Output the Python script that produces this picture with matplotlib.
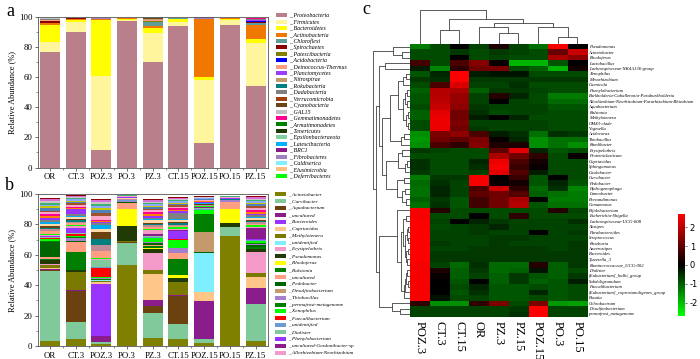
import numpy as np
import matplotlib
matplotlib.use("Agg")
import matplotlib.pyplot as plt
from matplotlib.colors import LinearSegmentedColormap
from matplotlib.patches import Rectangle

plt.rcParams['font.family'] = ['Liberation Serif', 'DejaVu Serif']
plt.rcParams['axes.unicode_minus'] = False

W, H = 700, 359

## ---------------- data: panel a (phyla) ----------------
samples = ["OR", "CT.3", "POZ.3", "PO.3", "PZ.3", "CT.15", "POZ.15", "PO.15", "PZ.15"]

phyla = ["Proteobacteria", "Firmicutes", "Bacteroidetes", "Actinobacteria", "Chloroflexi",
         "Spirochaetes", "Patescibacteria", "Acidobacteria", "Deinococcus-Thermus",
         "Planctomycetes", "Nitrospirae", "Rokubacteria", "Dadabacteria", "Verrucomicrobia",
         "Cyanobacteria", "GAL15", "Gemmatimonadetes", "Armatimonadetes", "Tenericutes",
         "Epsilonbacteraeota", "Latescibacteria", "BRC1", "Fibrobacteres", "Caldiserica",
         "Elusimicrobia", "Deferribacteres"]
phyla_colors = ["#B97F8A", "#FFF59D", "#FFFF00", "#F07800", "#5F9E96", "#8B0000", "#808000",
                "#0000FF", "#FF9E80", "#9B3CFF", "#C49A6C", "#008080", "#808080", "#A0410D",
                "#6B4513", "#C0C0C0", "#FF0090", "#008000", "#1E3A05", "#80D0A0", "#00B0FF",
                "#8B1A89", "#A080C0", "#80F0FF", "#FFC080", "#00FF00"]
phyla_vals = [
    [77.0, 89.8, 11.6, 97.3, 70.3, 94.2, 16.0, 94.7, 54.0],
    [6.6, 6.7, 49.2, 1.0, 18.9, 2.3, 42.0, 3.3, 28.5],
    [11.4, 1.5, 37.2, 0.3, 3.5, 2.0, 2.0, 1.0, 3.0],
    [0.7, 0.7, 0.5, 0.8, 1.5, 0.5, 38.5, 0.5, 9.2],
    [0.5, 0.1, 0.1, 0.1, 2.3, 0.1, 0.1, 0.0, 1.5],
    [1.0, 0.4, 0.1, 0.1, 0.4, 0.1, 0.0, 0.0, 0.5],
    [0.3, 0.1, 0.0, 0.0, 0.2, 0.0, 0.0, 0.0, 0.3],
    [0.1, 0.0, 0.0, 0.0, 0.3, 0.0, 0.0, 0.0, 0.2],
    [0.2, 0.1, 0.0, 0.0, 0.3, 0.0, 0.0, 0.0, 0.3],
    [0.1, 0.0, 0.0, 0.0, 0.6, 0.0, 0.0, 0.0, 0.2],
    [0.3, 0.0, 0.0, 0.0, 0.2, 0.0, 0.0, 0.0, 0.2],
    [0.1, 0.0, 0.0, 0.0, 0.2, 0.0, 0.0, 0.0, 0.2],
    [0.2, 0.0, 0.0, 0.0, 0.1, 0.0, 0.0, 0.0, 0.4],
    [0.2, 0.1, 0.0, 0.0, 0.2, 0.0, 0.0, 0.0, 0.2],
    [0.3, 0.0, 0.0, 0.0, 0.2, 0.0, 0.0, 0.0, 0.2],
    [0.1, 0.0, 0.0, 0.0, 0.1, 0.0, 0.0, 0.0, 0.1],
    [0.1, 0.0, 0.0, 0.0, 0.1, 0.0, 0.0, 0.0, 0.1],
    [0.1, 0.0, 0.0, 0.0, 0.1, 0.0, 0.0, 0.0, 0.1],
    [0.1, 0.0, 0.0, 0.0, 0.1, 0.0, 0.0, 0.0, 0.1],
    [0.0, 0.0, 0.0, 0.0, 0.1, 0.0, 0.0, 0.0, 0.1],
    [0.0, 0.0, 0.0, 0.0, 0.1, 0.0, 0.0, 0.0, 0.0],
    [0.0, 0.0, 0.0, 0.0, 0.1, 0.0, 0.0, 0.0, 0.0],
    [0.0, 0.0, 0.8, 0.0, 0.0, 0.0, 1.2, 0.0, 0.0],
    [0.0, 0.0, 0.0, 0.0, 0.0, 0.0, 0.0, 0.0, 0.0],
    [0.0, 0.0, 0.0, 0.0, 0.0, 0.0, 0.0, 0.0, 0.0],
    [0.0, 0.0, 0.0, 0.0, 0.0, 0.0, 0.0, 0.0, 0.0],
]

## ---------------- data: panel b (genera) ----------------
genera = ["Acinetobacter", "Curvibacter", "Aquabacterium", "uncultured", "Bacteroides",
          "Cupriavidus", "Methylotenera", "unidentified", "Erysipelothrix", "Pseudomonas",
          "Rhodoferax", "Ralstonia", "uncultured", "Pedobacter", "Desulfitobacterium",
          "Thiobacillus", "permafrost-metagenome", "Xenophilus", "Faecalibacterium",
          "unidentified", "Dialister", "Phenylobacterium", "uncultured-Gordonibacter-sp",
          "Allorhizobium-Neorhizobium"]
genera_colors = ["#7F7F00", "#7FC99B", "#6B420F", "#8B1C8B", "#9933FF", "#FFC68A", "#7A7A00",
                 "#7FEFFF", "#F49AC8", "#213B06", "#FFFF00", "#007F00", "#FF9E80", "#006400",
                 "#C49A6C", "#A57FC9", "#007F00", "#00FF00", "#FF0000", "#6A9BD1", "#7FC99B",
                 "#9933FF", "#8B1C8B", "#F49AC8"]
genera_vals = [
    [3.5, 4.6, 1.0, 53.3, 5.0, 4.6, 1.8, 72.6, 3.5],
    [45.8, 11.0, 1.5, 14.2, 16.5, 9.7, 2.8, 5.9, 23.9],
    [0.6, 20.6, 0.3, 1.0, 4.5, 18.7, 0.0, 0.0, 0.0],
    [0.6, 0.4, 3.5, 0.0, 4.5, 0.3, 25.0, 0.0, 10.6],
    [0.0, 0.0, 34.5, 0.0, 0.0, 0.0, 0.0, 0.0, 0.0],
    [1.0, 0.3, 1.2, 0.2, 17.0, 0.3, 5.7, 0.0, 7.7],
    [1.5, 11.5, 0.8, 0.3, 2.5, 8.7, 0.0, 0.0, 2.3],
    [0.5, 0.3, 0.3, 0.0, 0.3, 0.0, 25.7, 0.0, 0.0],
    [0.3, 0.3, 0.3, 0.0, 10.7, 0.0, 0.0, 0.0, 14.0],
    [2.5, 0.8, 0.2, 10.0, 3.0, 2.2, 0.0, 2.5, 1.5],
    [0.3, 0.3, 0.0, 11.0, 0.3, 2.5, 0.0, 9.0, 0.0],
    [0.5, 11.5, 0.2, 0.3, 1.5, 10.0, 0.5, 0.0, 1.5],
    [1.5, 6.5, 0.3, 4.0, 0.5, 4.0, 0.0, 5.0, 0.3],
    [9.5, 0.8, 0.2, 0.2, 1.3, 0.3, 0.5, 0.0, 1.2],
    [0.0, 0.0, 0.0, 0.0, 0.0, 0.0, 13.0, 0.0, 0.0],
    [0.5, 2.0, 0.2, 1.0, 0.5, 3.0, 0.0, 0.8, 0.3],
    [0.3, 0.5, 0.3, 0.1, 0.5, 0.3, 11.6, 0.0, 0.8],
    [1.3, 1.0, 0.3, 0.1, 2.2, 5.2, 2.9, 0.0, 1.5],
    [0.8, 1.0, 6.4, 0.0, 0.5, 0.3, 0.3, 0.0, 0.3],
    [0.3, 0.5, 0.3, 0.1, 0.5, 0.3, 0.3, 0.0, 0.3],
    [0.5, 0.5, 4.5, 0.0, 0.3, 0.3, 0.5, 0.0, 0.3],
    [0.3, 3.0, 0.2, 0.0, 0.5, 4.7, 0.3, 0.0, 0.3],
    [0.3, 0.5, 0.3, 0.0, 1.0, 1.0, 0.3, 0.0, 7.5],
    [0.3, 1.0, 0.3, 0.0, 2.5, 0.5, 0.3, 0.0, 0.5],
]
# minor genera beyond the legend (thin stripes at the top of each bar)
minor_colors = ["#00FF00", "#FF9E80", "#C08A96", "#007F7F", "#6B420F", "#FFD9A8", "#00AEEF",
                "#808080", "#9933FF", "#FF7F00", "#FF0090", "#FFA6C9", "#A0522D", "#4F81BD",
                "#C8C800", "#8FA8FF", "#3CB371", "#C8C8C8", "#DA70D6", "#8B0000"]
minor_vals = [
    [1.2, 1.0, 0.6, 0.2, 1.2, 1.2, 0.3, 0.1, 1.0],
    [1.5, 1.0, 4.5, 0.3, 1.0, 1.0, 0.5, 0.2, 1.2],
    [1.5, 1.0, 4.0, 0.2, 1.0, 0.8, 0.3, 0.2, 0.8],
    [1.0, 1.0, 4.0, 0.2, 0.8, 1.0, 0.3, 0.1, 1.0],
    [0.8, 0.8, 4.5, 0.2, 1.0, 0.8, 0.3, 0.1, 0.8],
    [1.5, 1.0, 2.5, 0.2, 1.5, 1.0, 0.4, 0.1, 1.2],
    [1.2, 0.8, 2.5, 0.2, 0.8, 0.8, 0.4, 0.2, 0.8],
    [1.5, 1.2, 1.0, 0.2, 1.0, 4.0, 0.3, 0.2, 1.0],
    [1.5, 3.2, 1.0, 0.2, 1.0, 1.5, 0.4, 0.1, 0.8],
    [1.0, 0.8, 0.5, 0.3, 1.5, 0.8, 0.4, 0.2, 1.5],
    [1.2, 0.8, 0.6, 0.2, 1.2, 0.8, 0.4, 0.2, 1.2],
    [1.5, 1.5, 3.0, 0.2, 1.5, 1.0, 0.4, 0.2, 1.5],
    [1.0, 1.0, 1.5, 0.1, 0.8, 1.0, 0.3, 0.1, 0.8],
    [1.5, 0.8, 2.5, 0.2, 0.8, 1.0, 0.4, 0.2, 1.5],
    [1.2, 0.8, 1.0, 0.1, 1.0, 0.8, 0.4, 0.1, 0.8],
    [1.2, 0.8, 1.5, 0.2, 1.0, 0.8, 0.3, 0.2, 1.0],
    [1.3, 0.8, 1.0, 0.1, 0.8, 0.8, 0.3, 0.1, 0.8],
    [1.0, 0.8, 1.2, 0.2, 1.0, 0.8, 0.3, 0.2, 1.0],
    [1.2, 0.8, 1.5, 0.2, 1.0, 0.8, 0.3, 0.1, 0.8],
    [0.8, 0.6, 1.0, 0.1, 0.6, 0.6, 0.2, 0.1, 0.8],
]

## ---------------- data: panel c (heatmap) ----------------
hm_cols = ["POZ.3", "CT.3", "CT.15", "OR", "PZ.3", "PZ.15", "POZ.15", "PO.3", "PO.15"]
hm_rows = ["Pseudomonas", "Acinetobacter", "Rhodoferax", "Lactobacillus",
           "Lachnospiraceae-NK4A136-group", "Xenophilus", "Mesorhizobium", "Caenicola",
           "Phenylobacterium", "Burkholderia-Caballeronia-Paraburkholderia",
           "Allorhizobium-Neorhizobium-Pararhizobium-Rhizobium", "Aquabacterium", "Ralstonia",
           "Methylotenera", "OM43-clade", "Vogesella", "Acidovorax", "Thiobacillus",
           "Ramlibacter", "Erysipelothrix", "Proteiniclasticum", "Cupriavidus", "Sphingomonas",
           "Caulobacter", "Curvibacter", "Pedobacter", "Hydrogenophaga", "Limnobacter",
           "Brevundimonas", "Comamonas", "Bifidobacterium", "Escherichia-Shigella",
           "Lachnospiraceae-UCG-008", "Alistipes", "Parabacteroides", "Streptococcus",
           "Roseburia", "Anaerostipes", "Bacteroides", "Tyzzerella_3",
           "Ruminococcaceae_UCG-002", "Dialister", "[Eubacterium]_hallii_group",
           "Subdoligranulum", "Faecalibacterium", "[Eubacterium]_coprostanoligenes_group",
           "Blautia", "Ochrobactrum", "Desulfitobacterium", "permafrost_metagenome"]
hm_vals = [
    [-1.3, -0.8, 0.0, -0.7, 0.3, -0.7, -1.2, 2.6, 0.0],
    [-0.8, -0.8, -0.6, -0.8, -0.6, -0.7, -0.8, 1.1, 2.1],
    [-0.8, -0.8, 0.0, -0.8, -0.7, -0.8, -0.8, 1.8, 1.5],
    [0.7, -0.8, 0.8, 1.4, 0.1, -1.9, -1.9, -0.9, 0.0],
    [-0.3, -1.4, 0.5, 1.2, 1.3, -0.8, -1.0, -1.9, 0.2],
    [-0.9, -0.4, 2.7, -0.3, -0.2, -0.2, -0.8, -0.8, -0.8],
    [-0.6, -0.5, 2.7, -0.6, -0.6, -0.6, -0.6, -0.6, -0.6],
    [-0.8, 0.8, 2.3, -0.7, -0.7, -0.5, -0.8, -0.8, -0.8],
    [-1.0, 1.9, 1.8, -1.0, -0.6, -0.6, -0.7, -0.8, -0.8],
    [-0.9, 1.9, 1.6, -0.7, 0.4, -0.4, -0.8, -1.3, -1.3],
    [-0.9, 2.0, 1.6, -0.7, 0.0, -0.7, -0.8, -1.1, -1.1],
    [-0.8, 2.1, 1.5, -0.6, -0.7, -0.7, -0.7, -0.9, -0.9],
    [-1.0, 2.4, 1.2, -0.5, -0.8, -0.7, -0.7, -0.8, -0.8],
    [-1.0, 2.5, 1.2, -0.3, 0.0, -0.4, -0.8, -0.8, -0.8],
    [-0.8, 2.5, 1.3, -0.7, -0.7, -0.7, -0.7, -0.8, -0.8],
    [-0.8, 2.5, 1.2, -0.6, -0.7, -0.7, -0.7, -0.8, -0.8],
    [-1.5, 1.3, 1.5, 0.8, -0.3, -0.5, -1.2, -0.5, -0.6],
    [-1.6, 1.2, 1.0, 1.3, 0.1, -0.4, -1.5, -1.2, -1.2],
    [-1.5, 0.8, 0.5, 1.4, 0.3, 0.3, -1.5, -1.2, -1.5],
    [-0.6, -0.7, -0.8, -0.8, 1.0, 2.4, -0.4, -0.9, -0.8],
    [-0.8, -0.8, -0.8, -0.8, 1.8, 1.2, 0.5, -0.8, 0.1],
    [-0.5, -0.8, -0.8, -0.4, 2.5, 0.8, 0.2, -0.8, -0.8],
    [-0.5, -0.8, -0.8, -0.5, 2.6, 0.6, 0.1, -0.8, -0.8],
    [-0.6, -0.8, -0.8, -0.7, 2.4, 0.9, -0.3, -0.8, -0.8],
    [-1.3, -0.6, -0.6, 2.6, 0.0, 0.6, -0.9, 0.0, -0.8],
    [-1.1, -0.5, -0.7, 2.6, 0.1, 0.2, -0.9, -0.4, -0.9],
    [-1.2, -0.4, -0.7, 0.8, 2.2, 0.5, -1.1, -0.5, -1.4],
    [-1.2, -0.4, -0.7, 1.0, 1.2, 0.9, -1.0, -1.2, -1.3],
    [-1.0, -0.6, -0.9, 0.7, 1.2, 1.8, 0.0, -1.3, -1.3],
    [-1.2, -0.5, -0.9, 0.7, 1.2, 1.9, -0.9, -1.2, -1.2],
    [2.6, 0.4, -0.8, -0.8, -0.8, -0.8, -0.8, 0.4, -0.7],
    [2.6, -0.8, -0.8, 0.0, -0.8, 0.5, -0.8, -0.8, -0.8],
    [2.7, -0.7, 0.0, -0.4, -0.6, -0.7, -0.7, -0.7, -0.5],
    [2.7, -0.8, -0.7, -0.6, -0.4, -0.7, -0.7, -0.7, -0.7],
    [2.7, -0.7, -0.7, -0.6, -0.7, -0.7, 0.0, -0.7, -0.6],
    [2.7, -0.7, -0.7, -0.7, -0.6, -0.6, -0.7, -0.7, -0.7],
    [2.7, -0.6, -0.7, -0.7, -0.6, -0.7, -0.7, -0.7, -0.6],
    [2.7, -0.7, -0.7, -0.6, -0.6, -0.6, -0.6, -0.7, -0.6],
    [2.7, -0.6, -0.6, -0.6, -0.6, -0.6, -0.6, -0.6, -0.6],
    [2.7, -0.6, -0.6, -0.6, -0.6, -0.6, -0.6, -0.6, -0.6],
    [2.6, -0.7, -1.1, -0.5, -1.1, -1.1, 0.4, -1.0, -0.6],
    [2.6, 0.3, -1.0, -0.6, -1.1, -1.0, -0.2, -1.0, -0.8],
    [2.6, 0.1, -1.0, -0.7, -1.0, -0.6, -0.9, -1.0, -0.6],
    [2.6, 0.0, -0.9, 0.0, -1.0, -0.6, -1.0, -0.9, -0.3],
    [2.6, 0.0, -0.8, -0.4, -0.9, -0.9, -0.8, -0.9, -0.8],
    [2.6, 0.0, -0.9, -0.5, -0.9, -0.9, -0.4, -0.9, -0.8],
    [2.6, -0.2, -0.8, -0.7, -0.9, -0.9, -0.8, -0.9, -0.8],
    [0.5, -1.5, -1.5, 0.5, 1.3, -0.8, 1.3, -1.6, -1.7],
    [-0.7, -0.7, -0.7, -0.7, -0.7, -0.6, 2.7, -0.7, -0.7],
    [-0.7, -0.7, -0.7, -0.7, -0.7, -0.5, 2.7, -0.7, -0.7],
]
# dendrograms: (child a, child b, height); leaves are 0..n-1 in display order
col_links = [(7, 8, 7.3), (4, 5, 11), (1, 2, 14), (6, 9, 17.3), (3, 10, 17),
             (13, 12, 21.3), (11, 14, 24.7), (0, 15, 34)]
row_links = [(1, 2, 8), (0, 50, 17), (3, 4, 25),
             (5, 6, 4), (53, 7, 7), (8, 9, 3), (10, 11, 3), (55, 56, 5), (12, 13, 2),
             (14, 15, 2), (58, 59, 4), (57, 60, 7), (54, 61, 12), (16, 17, 6), (63, 18, 9),
             (62, 64, 20),
             (19, 20, 8), (21, 22, 3), (67, 23, 5), (66, 68, 12), (24, 25, 6), (26, 27, 5),
             (28, 29, 4), (71, 72, 8), (70, 73, 13), (69, 74, 24),
             (65, 75, 28), (52, 76, 31),
             (31, 32, 4), (33, 34, 2), (35, 36, 2), (79, 80, 3), (37, 38, 2), (39, 40, 3),
             (82, 83, 4), (81, 84, 5), (78, 85, 7), (41, 42, 3), (43, 44, 2), (87, 88, 4),
             (89, 45, 5), (90, 46, 6), (86, 91, 9), (30, 92, 13),
             (48, 49, 10), (47, 94, 18), (93, 95, 31), (77, 96, 34), (51, 97, 37)]


def px_axes(fig, x0, y0, x1, y1):
    return fig.add_axes([x0 / W, 1 - y1 / H, (x1 - x0) / W, (y1 - y0) / H])


def stacked(ax, vals, colors):
    x = np.arange(len(samples))
    bottom = np.zeros(len(samples))
    for v, c in zip(vals, colors):
        v = np.array(v)
        ax.bar(x, v, bottom=bottom, width=0.78, color=c, edgecolor='none', linewidth=0)
        bottom += v
    ax.set_xlim(-0.47, len(samples) - 0.53)
    ax.set_ylim(0, 100)
    ax.set_xticks(x)
    ax.set_xticklabels(samples, fontsize=6)
    ax.set_xticks(x[:-1] + 0.5, minor=True)
    ax.set_yticks(np.arange(0, 101, 20))
    ax.set_yticks(np.arange(10, 100, 20), minor=True)
    ax.tick_params(axis='both', which='major', direction='out', length=2.5, width=0.5,
                   labelsize=6.3, pad=1.5, colors='#333333', labelcolor='black')
    ax.tick_params(axis='both', which='minor', direction='out', length=1.5, width=0.4,
                   colors='#333333')
    ax.set_ylabel("Relative Abundance (%)", fontsize=6, labelpad=2)
    for s in ax.spines.values():
        s.set_linewidth(0.6)
        s.set_color('#555555')


def legend_block(fig, x0, y0, x1, y1, first, step, labels, colors, fs):
    lax = px_axes(fig, x0, y0, x1, y1)
    lax.set_xlim(x0, x1)
    lax.set_ylim(y1, y0)
    lax.axis('off')
    for i, (lab, c) in enumerate(zip(labels, colors)):
        yc = first + i * step
        lax.add_patch(Rectangle((x0 + 1.5, yc - 2), 11, 4, color=c, lw=0))
        lax.text(x0 + 15, yc, "_ " + lab, fontsize=fs, style='italic', va='center',
                 ha='left')


def dendro(ax, links, n, orient):
    pos = {i: i + 0.5 for i in range(n)}
    hgt = {i: 0.0 for i in range(n)}
    for k, (a, b, h) in enumerate(links):
        xa, xb = pos[a], pos[b]
        ha, hb = hgt[a], hgt[b]
        if orient == 'top':
            ax.plot([xa, xa, xb, xb], [ha, h, h, hb], color='#404040', lw=0.6)
        else:
            ax.plot([ha, h, h, hb], [xa, xa, xb, xb], color='#404040', lw=0.6)
        pos[n + k] = (xa + xb) / 2
        hgt[n + k] = h
    ax.axis('off')


fig = plt.figure(figsize=(W / 100, H / 100), dpi=100)

# panel a
axa = px_axes(fig, 38, 17, 267.6, 167.5)
stacked(axa, phyla_vals, phyla_colors)
legend_block(fig, 274, 11, 360, 180, 15.3, 6.42, phyla, phyla_colors, 4.2)
fig.text(6 / W, 1 - 11 / H, "a", fontsize=13, va='center')

# panel b
axb = px_axes(fig, 38, 194, 267.6, 346)
stacked(axb, genera_vals + minor_vals, genera_colors + minor_colors)
legend_block(fig, 273, 190, 360, 357, 194.3, 6.89, genera, genera_colors, 3.8)
fig.text(5 / W, 1 - 186 / H, "b", fontsize=13, va='center')

# panel c heatmap
cmap = LinearSegmentedColormap.from_list("gbr", ["#00FF00", "#000000", "#FF0000"])
axc = px_axes(fig, 410, 44, 587.3, 316.7)
im = axc.imshow(np.array(hm_vals), cmap=cmap, vmin=-2.7, vmax=2.7, aspect='auto',
                interpolation='nearest')
axc.set_xticks(np.arange(len(hm_cols)))
axc.set_xticklabels(hm_cols, rotation=270, fontsize=9, va='top', ha='center')
axc.set_yticks(np.arange(len(hm_rows)))
axc.set_yticklabels(hm_rows, fontsize=3.3, style='italic')
axc.yaxis.tick_right()
axc.tick_params(length=0, pad=1)
axc.tick_params(axis='x', pad=3)
for s in axc.spines.values():
    s.set_visible(False)
fig.text(362 / W, 1 - 9 / H, "c", fontsize=13, va='center')

# dendrograms
axt = px_axes(fig, 410, 0, 587.3, 44)
axt.set_xlim(0, len(hm_cols))
axt.set_ylim(0, 44)
dendro(axt, col_links, len(hm_cols), 'top')

axl = px_axes(fig, 362, 44, 410, 316.7)
axl.set_ylim(len(hm_rows), 0)
axl.set_xlim(48, 0)
dendro(axl, row_links, len(hm_rows), 'left')

# colorbar
cax = px_axes(fig, 678, 214, 685, 316)
cb = fig.colorbar(im, cax=cax, ticks=[-2, -1, 0, 1, 2])
cb.outline.set_visible(False)
cb.ax.tick_params(labelsize=6, length=1.5, width=0.4, pad=2)
for t in cb.ax.get_yticklabels():
    t.set_family('DejaVu Sans')

fig.savefig("out.png", dpi=100)
